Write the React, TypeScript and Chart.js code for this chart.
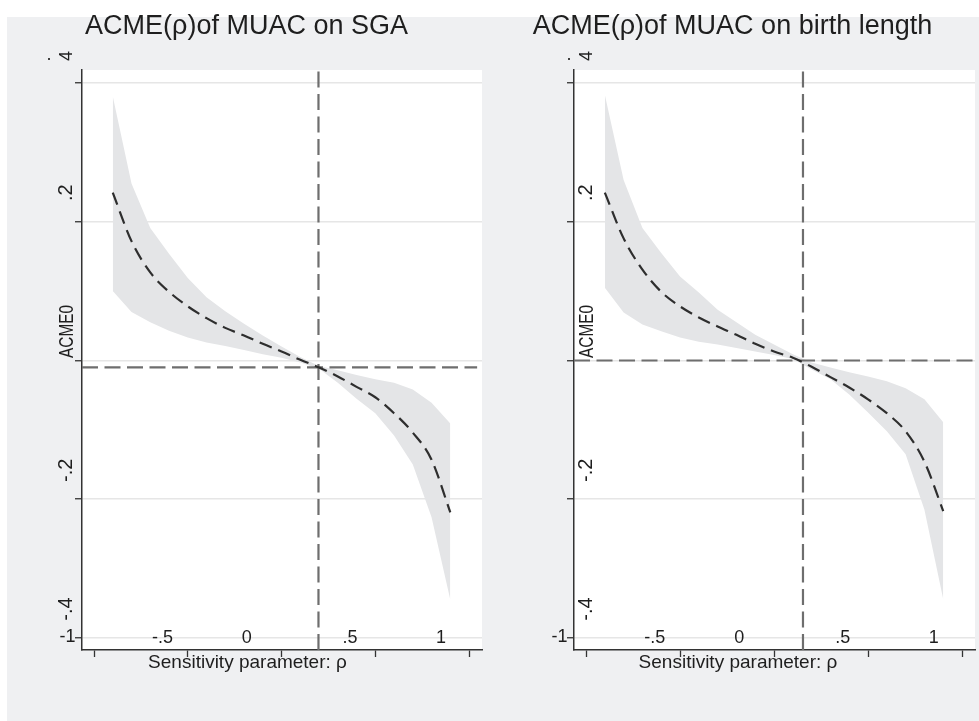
import React, { useEffect, useRef } from "react";
import { Chart, registerables } from "chart.js";

Chart.register(...registerables);

// ---------- data ----------
const rho = [-0.9, -0.8, -0.7, -0.6, -0.5, -0.4, -0.3, -0.2, -0.1, 0, 0.1, 0.2, 0.3, 0.4, 0.5, 0.6, 0.7, 0.8, 0.9];

const sgaMean = [0.242, 0.172, 0.127, 0.099, 0.078, 0.061, 0.047, 0.036, 0.024, 0.013, 0.001, -0.010, -0.023, -0.038, -0.053, -0.076, -0.104, -0.143, -0.219];
const sgaUpper = [0.381, 0.255, 0.191, 0.154, 0.119, 0.091, 0.071, 0.053, 0.036, 0.020, 0.005, -0.008, -0.014, -0.021, -0.027, -0.032, -0.042, -0.061, -0.091];
const sgaLower = [0.100, 0.070, 0.055, 0.043, 0.033, 0.026, 0.021, 0.015, 0.009, 0.004, -0.003, -0.012, -0.032, -0.055, -0.076, -0.108, -0.150, -0.226, -0.345];

const lenMean = [0.242, 0.176, 0.131, 0.099, 0.078, 0.062, 0.049, 0.037, 0.024, 0.013, 0.004, -0.009, -0.024, -0.039, -0.056, -0.076, -0.102, -0.146, -0.217];
const lenUpper = [0.383, 0.260, 0.191, 0.155, 0.121, 0.098, 0.073, 0.055, 0.037, 0.023, 0.009, -0.003, -0.010, -0.017, -0.023, -0.030, -0.040, -0.056, -0.089];
const lenLower = [0.105, 0.069, 0.052, 0.042, 0.033, 0.027, 0.023, 0.018, 0.013, 0.008, 0.002, -0.013, -0.027, -0.049, -0.075, -0.102, -0.135, -0.215, -0.344];

const titles = ["ACME(\u03c1)of MUAC on SGA", "ACME(\u03c1)of MUAC on birth length"];
const xAxisTitle = "Sensitivity parameter: \u03c1";

const xTicks = [-1, -0.5, 0, 0.5, 1];
const yTicks = [-0.4, -0.2, 0, 0.2, 0.4];

const xTickLabels = ["-.5", "0", ".5", "1"];
const xTickLabelAt = [-0.635, -0.185, 0.365, 0.85];

const yRotLabels = [".2", "ACME0", "-.2", "-.4"];
const yRotLabelAt = [0.2, 0, -0.2, -0.4];
const yTopLabelDigit = "4";
const yTopLabelDot = ".";
const yTopLabelAt = 0.4;
const yBottomLabel = "-1";
const yBottomLabelAt = -0.4;

// reference lines: [rho where ACME crosses, horizontal ACME line]
const sgaRefRho = 0.197;
const sgaRefAcme = -0.01;
const lenRefRho = 0.154;
const lenRefAcme = 0;

// ---------- style ----------
const FONT = '"Liberation Sans", Arial, Helvetica, sans-serif';
const GRAY = "#eff0f2";
const BAND = "#e4e5e7";
const TEXT = "#1e1e1e";
const AXIS = "#333333";
const REF = "#6e6e6e";

const X_MIN = -1.064;
const X_MAX = 1.069;
const Y_MIN = -0.4173;
const Y_MAX = 0.4187;

type PanelCfg = {
  title: string;
  mean: number[];
  upper: number[];
  lower: number[];
  refRho: number;
  refAcme: number;
  hEnd: number;
  width: number;
  padLeft: number;
  padRight: number;
  grayLeft: number;
  titleX: number;
  xTitleX: number;
  yLabOffset: number;
};

const panels: PanelCfg[] = [
  {
    title: titles[0],
    mean: sgaMean,
    upper: sgaUpper,
    lower: sgaLower,
    refRho: sgaRefRho,
    refAcme: sgaRefAcme,
    hEnd: 1.043,
    width: 490,
    padLeft: 82,
    padRight: 8,
    grayLeft: 7,
    titleX: 246.5,
    xTitleX: 247.5,
    yLabOffset: -10,
  },
  {
    title: titles[1],
    mean: lenMean,
    upper: lenUpper,
    lower: lenLower,
    refRho: lenRefRho,
    refAcme: lenRefAcme,
    hEnd: X_MAX,
    width: 489,
    padLeft: 84,
    padRight: 4,
    grayLeft: 0,
    titleX: 242.5,
    xTitleX: 248,
    yLabOffset: 18,
  },
];

function makeDecor(cfg: PanelCfg) {
  return {
    id: "decor",
    beforeDraw(chart: any) {
      const { ctx, width, height, chartArea } = chart;
      ctx.save();
      ctx.fillStyle = "#ffffff";
      ctx.fillRect(0, 0, width, height);
      ctx.fillStyle = GRAY;
      ctx.fillRect(cfg.grayLeft, 17, width - cfg.grayLeft, height - 17);
      ctx.fillStyle = "#ffffff";
      ctx.fillRect(chartArea.left, chartArea.top, chartArea.right - chartArea.left, chartArea.bottom - chartArea.top);
      ctx.restore();
    },
    afterDraw(chart: any) {
      const { ctx, chartArea } = chart;
      const xs = chart.scales.x;
      const ys = chart.scales.y;
      const axisX = chartArea.left;
      const bx = axisX + cfg.yLabOffset;
      ctx.save();
      ctx.fillStyle = TEXT;
      ctx.textBaseline = "alphabetic";
      ctx.textAlign = "center";

      // title
      ctx.font = `27px ${FONT}`;
      ctx.fillText(cfg.title, cfg.titleX, 34);

      // x axis title
      ctx.font = `19px ${FONT}`;
      ctx.fillText(xAxisTitle, cfg.xTitleX, 668);

      // x tick labels (inside the plot, above the axis)
      ctx.font = `18px ${FONT}`;
      xTickLabels.forEach((t, i) => {
        ctx.fillText(t, xs.getPixelForValue(xTickLabelAt[i]), chartArea.bottom - 7);
      });

      // rotated y labels
      yRotLabels.forEach((t, i) => {
        const cy = ys.getPixelForValue(yRotLabelAt[i]) - 29;
        ctx.save();
        ctx.translate(t === "ACME0" ? bx + 1 : bx, cy);
        ctx.rotate(-Math.PI / 2);
        if (t === "ACME0") {
          ctx.font = `21px ${FONT}`;
          ctx.scale(0.73, 1);
        } else {
          ctx.font = `20px ${FONT}`;
        }
        ctx.fillText(t, 0, 0);
        ctx.restore();
      });

      // top ".4"
      {
        const cy = ys.getPixelForValue(yTopLabelAt) - 27;
        ctx.save();
        ctx.translate(bx, cy);
        ctx.rotate(-Math.PI / 2);
        ctx.font = `18px ${FONT}`;
        ctx.fillText(yTopLabelDigit, 0, 0);
        ctx.restore();
        ctx.font = `18px ${FONT}`;
        ctx.fillText(yTopLabelDot, bx - 23, cy + 4);
      }

      // "-1" at bottom tick
      ctx.font = `18px ${FONT}`;
      ctx.textAlign = "right";
      ctx.textBaseline = "middle";
      ctx.fillText(yBottomLabel, axisX - 6.5, ys.getPixelForValue(yBottomLabelAt) - 1);
      ctx.restore();
    },
  };
}

function Panel({ cfg, left }: { cfg: PanelCfg; left: number }) {
  const ref = useRef<HTMLCanvasElement | null>(null);
  useEffect(() => {
    if (!ref.current) return;
    const pts = (ys: number[]) => rho.map((r, i) => ({ x: r, y: ys[i] }));
    const chart = new Chart(ref.current, {
      type: "line",
      data: {
        datasets: [
          {
            data: pts(cfg.upper),
            borderColor: "rgba(0,0,0,0)",
            borderWidth: 0,
            pointRadius: 0,
            backgroundColor: BAND,
            fill: "+1",
            order: 3,
          },
          {
            data: pts(cfg.lower),
            borderColor: "rgba(0,0,0,0)",
            borderWidth: 0,
            pointRadius: 0,
            fill: false,
            order: 3,
          },
          {
            data: [
              { x: cfg.refRho, y: Y_MIN },
              { x: cfg.refRho, y: Y_MAX },
            ],
            borderColor: REF,
            borderWidth: 2.2,
            borderDash: [16, 6.5],
            pointRadius: 0,
            fill: false,
            order: 2,
          },
          {
            data: [
              { x: X_MIN, y: cfg.refAcme },
              { x: cfg.hEnd, y: cfg.refAcme },
            ],
            borderColor: REF,
            borderWidth: 2.2,
            borderDash: [16, 6.5],
            pointRadius: 0,
            fill: false,
            order: 2,
          },
          {
            data: pts(cfg.mean),
            borderColor: "#2e2e2e",
            borderWidth: 2.2,
            borderDash: [13, 7],
            pointRadius: 0,
            fill: false,
            cubicInterpolationMode: "monotone",
            order: 0,
          },
        ],
      },
      options: {
        responsive: false,
        animation: false,
        events: [],
        layout: { padding: { left: cfg.padLeft, right: cfg.padRight, top: 70, bottom: 71 } },
        plugins: { legend: { display: false }, tooltip: { enabled: false }, title: { display: false } },
        scales: {
          x: {
            type: "linear",
            min: X_MIN,
            max: X_MAX,
            afterBuildTicks: (s: any) => {
              s.ticks = xTicks.map((v) => ({ value: v }));
            },
            afterFit: (s: any) => {
              s.height = 0;
            },
            ticks: { display: false },
            grid: {
              drawOnChartArea: false,
              drawTicks: true,
              tickLength: 7,
              tickColor: AXIS,
              tickWidth: 1.3,
            },
            border: { display: true, color: AXIS, width: 1.5 },
          },
          y: {
            type: "linear",
            min: Y_MIN,
            max: Y_MAX,
            afterBuildTicks: (s: any) => {
              s.ticks = yTicks.map((v) => ({ value: v }));
            },
            afterFit: (s: any) => {
              s.width = 0;
            },
            ticks: { display: false },
            grid: {
              color: "#e6e6e6",
              lineWidth: 1.5,
              drawTicks: true,
              tickLength: 7,
              tickColor: AXIS,
              tickWidth: 1.3,
            },
            border: { display: true, color: AXIS, width: 1.5 },
          },
        },
      } as any,
      plugins: [makeDecor(cfg)],
    });
    return () => chart.destroy();
  }, [cfg]);
  return (
    <canvas
      ref={ref}
      width={cfg.width}
      height={721}
      style={{ position: "absolute", left, top: 0, width: cfg.width, height: 721 }}
    />
  );
}

export default function App() {
  return (
    <div style={{ position: "absolute", left: 0, top: 0, width: 979, height: 721, background: "#ffffff" }}>
      <Panel cfg={panels[0]} left={0} />
      <Panel cfg={panels[1]} left={490} />
    </div>
  );
}
